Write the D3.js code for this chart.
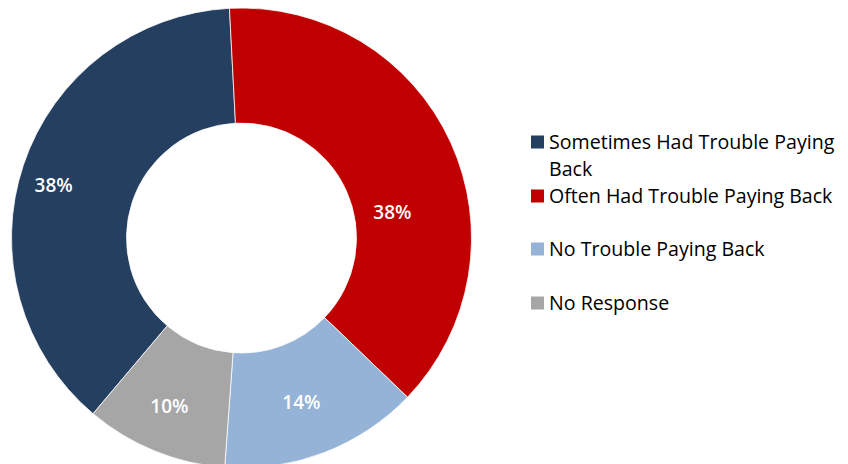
<!DOCTYPE html>
<html>
<head>
<meta charset="utf-8">
<script src="https://cdn.jsdelivr.net/npm/d3@7"></script>
<style>
  body { margin: 0; background: #fff; }
  svg text { font-family: "Open Sans", Lato, sans-serif; }
</style>
</head>
<body>
<div id="chart"></div>
<script>
// chart data
var categories = ["Sometimes Had Trouble Paying Back", "Often Had Trouble Paying Back", "No Trouble Paying Back", "No Response"];
var values = [38, 38, 14, 10];
var valueLabels = ["38%", "38%", "14%", "10%"];
var colors = ["#243F60", "#C00000", "#95B3D7", "#A6A6A6"];

var svgWidth = 848;
var svgHeight = 464;

var cx = 241.5, cy = 238;
var outerR = 230, innerR = 115;

var svg = d3.select("#chart")
    .append("svg")
    .attr("width", svgWidth)
    .attr("height", svgHeight);

var chartGroup = svg.append("g")
    .attr("transform", `translate(${cx}, ${cy})`);

var rad = Math.PI / 180;
// first slice ends just left of 12 o'clock
var start = -3 * rad - (values[0] / d3.sum(values)) * 2 * Math.PI;

var pie = d3.pie()
    .sort(null)
    .value(d => d)
    .startAngle(start)
    .endAngle(start + 2 * Math.PI);

var arcs = pie(values);

var arc = d3.arc()
    .innerRadius(innerR)
    .outerRadius(outerR);

chartGroup.selectAll("path")
    .data(arcs)
    .enter()
    .append("path")
    .attr("d", arc)
    .attr("fill", (d, i) => colors[i])
    .attr("stroke", "#fff")
    .attr("stroke-width", 0.75);

// label placement: distance from centre and angle nudge (degrees)
var labelDist = [195, 153, 175, 183];
var labelShift = [-3, 15, 1, 1];

chartGroup.selectAll(".sliceLabel")
    .data(arcs)
    .enter()
    .append("text")
    .attr("class", "sliceLabel")
    .attr("transform", (d, i) => {
        var a = (d.startAngle + d.endAngle) / 2 + labelShift[i] * rad;
        var x = labelDist[i] * Math.sin(a);
        var y = -labelDist[i] * Math.cos(a);
        return `translate(${x}, ${y})`;
    })
    .attr("text-anchor", "middle")
    .attr("dy", "0.36em")
    .attr("fill", "#fff")
    .style("font-size", "19px")
    .style("font-weight", "600")
    .text((d, i) => valueLabels[i]);

// legend
var legendY = [142, 196, 249, 303];
var legend = svg.append("g")
    .attr("transform", "translate(531, 0)");

var items = legend.selectAll("g")
    .data(categories)
    .enter()
    .append("g")
    .attr("transform", (d, i) => `translate(0, ${legendY[i]})`);

items.append("rect")
    .attr("x", 0)
    .attr("y", -6.5)
    .attr("width", 13)
    .attr("height", 13)
    .attr("fill", (d, i) => colors[i]);

items.append("text")
    .attr("x", 18)
    .attr("y", 6.5)
    .attr("fill", "#000")
    .style("font-size", "19.6px")
    .each(function (d, i) {
        var t = d3.select(this);
        if (i === 0) {
            t.append("tspan").attr("x", 18).text("Sometimes Had Trouble Paying");
            t.append("tspan").attr("x", 18).attr("dy", 27).text("Back");
        } else {
            t.text(d);
        }
    });
</script>
</body>
</html>
